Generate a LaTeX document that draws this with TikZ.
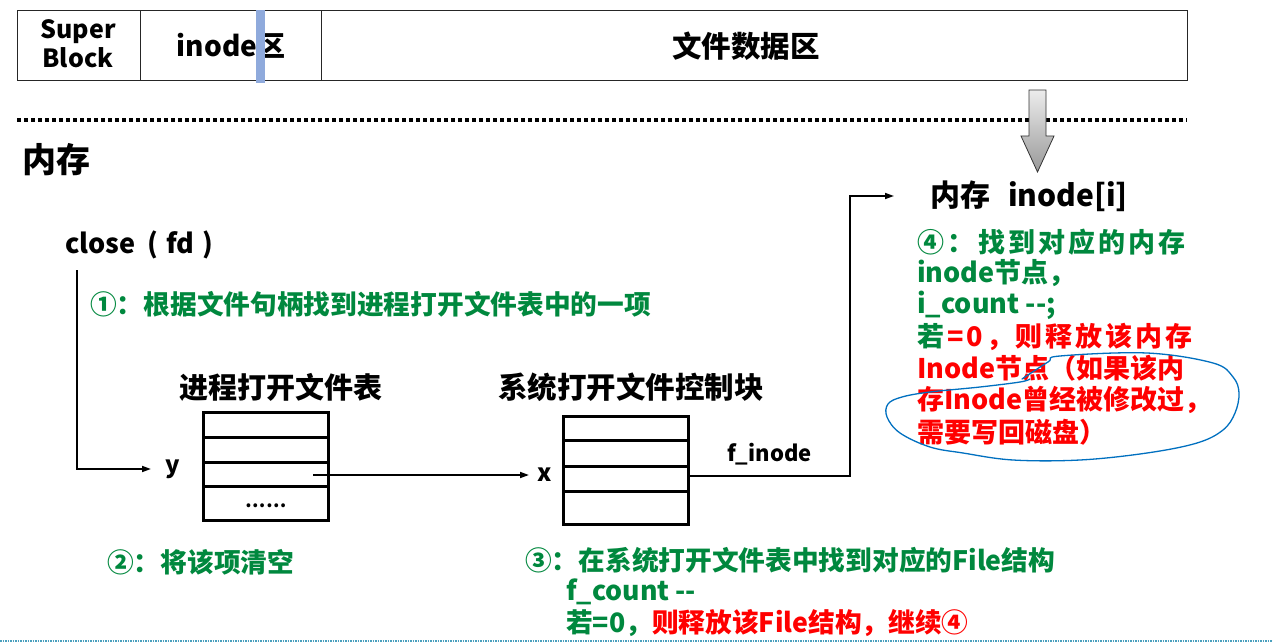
\documentclass[tikz,border=0pt]{standalone}
\usepackage{fontspec}
\setmainfont{Noto Sans CJK SC}
\usetikzlibrary{arrows.meta,calc}
\definecolor{stepgreen}{RGB}{0,136,62}
\definecolor{alertred}{RGB}{255,0,0}
\definecolor{penblue}{RGB}{0,112,192}
\definecolor{cursorblue}{RGB}{143,170,220}
\definecolor{rulecyan}{RGB}{75,160,190}
\newcommand{\fs}[1]{\fontsize{#1}{#1}\selectfont\bfseries}
\newcommand{\wide}{\addfontfeatures{LetterSpace=11}}
\begin{document}
\begin{tikzpicture}[x=1pt,y=-1pt,
  lbl/.style={inner sep=0pt,anchor=west,font=\fs{26}},
  note/.style={inner sep=0pt,anchor=west,font=\fs{26.7},text=stepgreen},
  tbl/.style={draw,line width=3pt,minimum width=125pt,minimum height=108pt,inner sep=0pt},
  arr/.style={line width=1.7pt,-{Triangle[length=9pt,width=6pt]}},
  cell/.style={draw=black!85,line width=1.2pt,minimum height=70pt,inner sep=0pt}]
\useasboundingbox (0,0) rectangle (1273,644);
\fill[white] (0,0) rectangle (1273,644);

% disk layout bar
\node[cell,minimum width=123pt,anchor=north west] (sb) at (17,10) {};
\node[cell,minimum width=181pt,anchor=north west] (ib) at (140,10) {};
\node[cell,minimum width=866pt,anchor=north west] (db) at (321,10) {};
\node[inner sep=0pt,align=center,font=\fs{25}] (sbt) at (78,44) {Super\\[3pt]Block};
\node[inner sep=0pt,font=\fs{28}] (ibt) at (231,46) {inode区};
\node[inner sep=0pt,font=\fs{29.5}] (dbt) at (746,46) {文件数据区};
\fill[cursorblue] (256,10) rectangle (265,83);

% disk / memory separator
\coordinate (sepL) at (17,120);
\coordinate (sepR) at (1187,120);
\draw[line width=3.5pt,dash pattern=on 3.5pt off 3.5pt] (sepL) -- (sepR);

% load arrow from disk into memory
\shade[top color=gray!15,bottom color=gray!80,draw=black!80,line width=0.8pt]
  (1029,90) -- (1046,90) -- (1046,136) -- (1054,136) -- (1037.5,172)
  -- (1021,136) -- (1029,136) -- cycle;

\node[lbl,font=\fs{34}] (mem) at (22,160) {内存};
\node[lbl,font=\fs{30}] (inode) at (930,196) {内存\hspace{18pt}inode[i]};

% close call and step 1
\node[lbl,font=\fs{27}] (close) at (65,245) {close\hspace{12pt}(\hspace{8pt}fd\hspace{8pt})};
\node[note] (s1) at (90,304) {①：根据文件句柄找到进程打开文件表中的一项};

% process open-file table
\node[lbl,font=\fs{29},anchor=center] (pt) at (280.5,387) {进程打开文件表};
\node[tbl] (t1) at (265.5,466) {};
\draw[line width=3pt] (203,437) -- (328,437) (203,462) -- (328,462) (203,486) -- (328,486);
\node[inner sep=0pt,font=\fs{18}] (dots) at (266,506) {……};
\node[lbl,font=\fs{24}] (ylab) at (165,469) {y};

% system open-file control block
\node[lbl,font=\fs{29.5},anchor=center] (st) at (631,387) {系统打开文件控制块};
\node[tbl] (t2) at (625.5,470) {};
\draw[line width=3pt] (563,440) -- (688,440) (563,466) -- (688,466) (563,491) -- (688,491);
\node[lbl,font=\fs{24}] (xlab) at (537,475) {x};
\node[lbl,font=\fs{22}] (finode) at (727,454) {f\_inode};

% connectors
\coordinate (c1) at (77,270);
\draw[arr] (c1) |- ([xshift=-14pt]ylab.west);
\coordinate (t1r3) at (313,475);
\draw[arr] (t1r3) -- ([xshift=-8pt]xlab.west |- t1r3);
\coordinate (t2r3) at (t2.east |- 0,476);
\coordinate (bend) at (850,196);
\draw[arr] (t2r3) -| (bend) -- ([xshift=-36pt]inode.west);

% steps 2 and 3
\node[note] (s2) at (107,562) {②：将该项清空};
\node[note] (s3) at (525,560) {③：在系统打开文件表中找到对应的File结构};
\node[note] (s3b) at (566,592) {f\_count -{}-};
\node[note] (s3c) at (566,623) {若=0，\textcolor{alertred}{则释放该File结构，继续④}};

% step 4
\node[note,font=\fs{27}\wide] (s4a) at (917,242) {④：\hspace{4pt}找到对应的内存};
\node[note,font=\fs{27}] (s4b) at (917,273) {inode节点，};
\node[note,font=\fs{27}] (s4c) at (917,305) {i\_count -{}-;};
\node[note,font=\fs{27}\wide] (s4d) at (917,337) {若\hspace{3pt}\textcolor{alertred}{=0，则释放该内存}};
\node[note,font=\fs{27},text=alertred] (s4e) at (917,368) {Inode节点（如果该内};
\node[note,font=\fs{27},text=alertred] (s4f) at (917,400) {存Inode曾经被修改过，};
\node[note,font=\fs{27},text=alertred] (s4g) at (917,432) {需要写回磁盘）};

% hand-drawn loop around the write-back remark
\draw[penblue,line width=1.3pt,line cap=round] plot[smooth,tension=0.6] coordinates {
  (1022,379) (1048,362) (1060,356) (1147,353) (1213,363) (1233,377) (1239,393)
  (1235,413) (1223,430) (1197,443) (1147,453) (1080,460) (1013,460) (963,453)
  (930,447) (900,433) (887,417) (888,404) (902,397) (930,392) (980,387) (1020,382) (1030,379)};

% bottom rule
\coordinate (botL) at (0,641);
\coordinate (botR) at (1273,641);
\draw[rulecyan,line width=1.5pt,dash pattern=on 1.5pt off 1pt] (botL) -- (botR);
\end{tikzpicture}
\end{document}
